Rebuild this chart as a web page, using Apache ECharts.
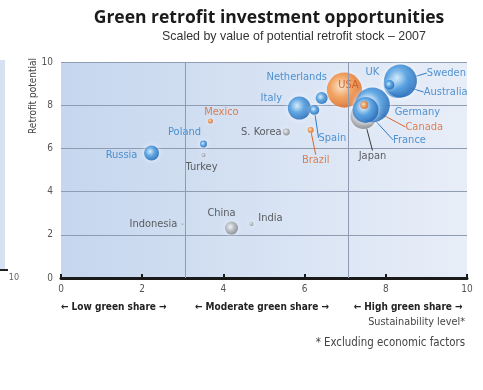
<!DOCTYPE html>
<html>
<head>
<meta charset="utf-8">
<script src="https://cdn.jsdelivr.net/npm/echarts@6/dist/echarts.min.js"></script>
<style>
  html, body { margin: 0; padding: 0; background: #ffffff; }
  #chart { width: 483px; height: 390px; }
</style>
</head>
<body>
<div id="chart"></div>
<script>
// Countries in drawing order (later ones sit on top of earlier ones)
const countries = ['Japan', 'Australia', 'Sweden', 'UK', 'USA', 'Germany', 'France', 'Canada',
  'Italy', 'Netherlands', 'Spain', 'Brazil', 'S. Korea', 'Mexico', 'Poland', 'Turkey',
  'Russia', 'China', 'India', 'Indonesia'];
// Sustainability level (x)
const sustainability = [7.45, 8.29, 8.36, 8.09, 6.98, 7.67, 7.50, 7.47,
  5.87, 6.42, 6.24, 6.15, 5.55, 3.68, 3.51, 3.51,
  2.23, 4.20, 4.69, 2.99];
// Retrofit potential (y)
const retrofitPotential = [7.50, 8.98, 9.12, 8.94, 8.70, 8.01, 7.78, 8.01,
  7.87, 8.33, 7.78, 6.85, 6.76, 7.27, 6.20, 5.69,
  5.79, 2.31, 2.50, 2.50];
// Value of potential retrofit stock (relative, drives bubble area)
const retrofitStock = [42, 49, 68, 6, 77, 76, 42, 4,
  33, 9, 6, 2.3, 3, 1.6, 3, 1,
  14, 10.5, 1, 0.3];
const region = ['Asia', 'Europe & Pacific', 'Europe & Pacific', 'Europe & Pacific', 'Americas',
  'Europe & Pacific', 'Europe & Pacific', 'Americas', 'Europe & Pacific', 'Europe & Pacific',
  'Europe & Pacific', 'Americas', 'Asia', 'Americas', 'Europe & Pacific', 'Asia',
  'Europe & Pacific', 'Asia', 'Asia', 'Asia'];

// Axis ticks and green-share bands
const axisMin = 0, axisMax = 10, tickStep = 2;
const bandEdges = [0, 3.07, 7.07, 10];
const bandNames = ['Low green share', 'Moderate green share', 'High green share'];
// where each band caption is centred along the x scale
const bandCaptionAt = [1.3, 4.95, 8.55];

// Label placement around each bubble: [dx, dy] in px from the bubble centre, leader line flag
const labelPlacement = {
  'Japan': [9, 40, true], 'Australia': [48, 8, true], 'Sweden': [46, -8, true],
  'UK': [-17, -13, false], 'USA': [4, -5, false], 'Germany': [45, 7, false],
  'France': [44, 30, true], 'Canada': [60, 22, true], 'Italy': [-28, -10, false],
  'Netherlands': [-25, -21, false], 'Spain': [18, 28, true], 'Brazil': [5, 30, true],
  'S. Korea': [-25, 0, false], 'Mexico': [11, -9, false], 'Poland': [-19, -12, false],
  'Turkey': [-2, 12, false], 'Russia': [-30, 2, false], 'China': [-10, -15, false],
  'India': [19, -6, false], 'Indonesia': [-29, 0, false]
};

const regionStyle = {
  'Americas': { stops: ['#fde2c4', '#f28f3b', '#d9621a'], text: '#d8652b', glow: 'rgba(255,255,255,0.7)' },
  'Asia': { stops: ['#f4f4f4', '#b0b3b8', '#7b7f85'], text: '#3a3a3a', glow: 'rgba(255,255,255,0.6)' },
  'Europe & Pacific': { stops: ['#d2eafb', '#3d93dc', '#145fb3'], text: '#2a7cc7', glow: 'rgba(255,255,255,0.85)' }
};

const labelFont = '"Liberation Sans Narrow", "DejaVu Sans Condensed", sans-serif';
const gridColor = '#8f9cb1';

const chart = echarts.init(document.getElementById('chart'), null, { renderer: 'canvas' });

function bubbleFill(r) {
  const s = regionStyle[r].stops;
  return new echarts.graphic.RadialGradient(0.4, 0.4, 0.62, [
    { offset: 0, color: s[0] }, { offset: 0.5, color: s[1] }, { offset: 1, color: s[2] }
  ]);
}

const points = countries.map((name, i) => {
  const st = regionStyle[region[i]];
  const place = labelPlacement[name];
  return {
    name: name,
    value: [sustainability[i], retrofitPotential[i], retrofitStock[i]],
    itemStyle: { color: bubbleFill(region[i]), shadowColor: st.glow, shadowBlur: 5 },
    label: {
      show: true, position: 'inside', formatter: name,
      color: name === 'USA' ? '#c5551a' : st.text,
      fontFamily: labelFont, fontSize: 11, textBorderWidth: 0
    },
    labelLine: { show: place[2], lineStyle: { color: st.text, width: 1 } }
  };
});

chart.setOption({
  animation: false,
  title: [{
    text: 'Green retrofit investment opportunities',
    left: 264, top: 4, textAlign: 'center',
    textStyle: { fontFamily: '"Open Sans", sans-serif', fontWeight: 'bold', fontSize: 17.5, color: '#1b1b1b' }
  }, {
    text: 'Scaled by value of potential retrofit stock \u2013 2007',
    left: 289, top: 26, textAlign: 'center',
    textStyle: { fontFamily: '"Liberation Sans", sans-serif', fontWeight: 'normal', fontSize: 12.4, color: '#333' }
  }],
  grid: {
    left: 61, top: 62, width: 406, height: 216, show: true, borderWidth: 0,
    backgroundColor: new echarts.graphic.LinearGradient(0, 0, 1, 0, [
      { offset: 0, color: '#c5d6ee' }, { offset: 1, color: '#e8eef8' }
    ])
  },
  xAxis: {
    type: 'value', min: axisMin, max: axisMax, interval: tickStep,
    axisLine: { show: true, lineStyle: { color: '#1a1a1a', width: 3 } },
    axisTick: { show: true, inside: true, length: 4, lineStyle: { color: '#1a1a1a', width: 2 } },
    axisLabel: { color: '#555', fontSize: 10, margin: 6, fontFamily: labelFont },
    splitLine: { show: false }
  },
  yAxis: {
    type: 'value', min: axisMin, max: axisMax, interval: tickStep,
    axisLine: { show: false }, axisTick: { show: false },
    axisLabel: { color: '#555', fontSize: 10, margin: 8, fontFamily: labelFont },
    splitLine: { show: true, lineStyle: { color: gridColor, width: 1 } }
  },
  series: [{
    // band dividers between low / moderate / high green share
    type: 'scatter', data: [], z: 1, silent: true,
    markLine: {
      symbol: 'none', silent: true, label: { show: false },
      lineStyle: { color: gridColor, type: 'solid', width: 1 },
      data: bandEdges.slice(1, -1).map(v => ({ xAxis: v }))
    }
  }, {
    type: 'scatter', z: 3,
    symbol: 'circle',
    symbolSize: v => Math.sqrt(v[2]) * 4,
    data: points,
    labelLayout: params => {
      const p = labelPlacement[countries[params.dataIndex]];
      return { dx: p[0], dy: p[1] };
    }
  }]
});

// Text and decorations placed against the axis scale
function drawExtras() {
  const y0 = chart.convertToPixel({ gridIndex: 0 }, [0, 0])[1];
  const bandText = bandNames.map((name, i) => {
    const cx = chart.convertToPixel({ gridIndex: 0 }, [bandCaptionAt[i], 0])[0];
    return {
      type: 'text', x: cx, y: y0 + 29,
      style: {
        text: '\u2190 ' + name + ' \u2192', align: 'center', verticalAlign: 'middle',
        font: 'bold 10px ' + labelFont, fill: '#222'
      }
    };
  });
  chart.setOption({
    graphic: [
      // edge of the neighbouring panel
      { type: 'rect', shape: { x: 0, y: 60, width: 5, height: 210 }, style: { fill: '#d6e1f1' } },
      { type: 'line', shape: { x1: 0, y1: 270, x2: 8, y2: 270 }, style: { stroke: '#222', lineWidth: 2 } },
      { type: 'text', x: 14, y: 278, style: { text: '10', align: 'center', verticalAlign: 'middle', font: '9px ' + labelFont, fill: '#666' } },
      {
        type: 'text', x: 33, y: 96, rotation: Math.PI / 2,
        style: { text: 'Retrofit potential', align: 'center', verticalAlign: 'middle', font: '10px ' + labelFont, fill: '#444' }
      },
      ...bandText,
      { type: 'text', x: 465, y: 322, style: { text: 'Sustainability level*', align: 'right', verticalAlign: 'middle', font: '10.8px ' + labelFont, fill: '#444' } },
      { type: 'text', x: 465, y: 343, style: { text: '* Excluding economic factors', align: 'right', verticalAlign: 'middle', font: '11.4px ' + labelFont, fill: '#444' } }
    ]
  });
}
drawExtras();
</script>
</body>
</html>
